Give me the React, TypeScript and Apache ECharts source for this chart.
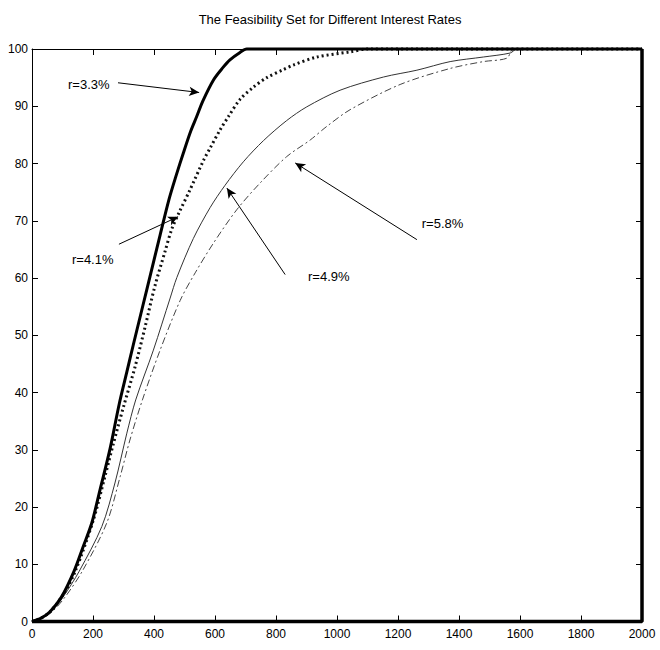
import React, { useEffect, useRef } from "react";
import * as echarts from "echarts";

const TITLE = "The Feasibility Set for Different Interest Rates";
const FONT = "'Liberation Sans Narrow', 'Liberation Sans', Arial, sans-serif";

const seriesNames = ["r=3.3%", "r=4.1%", "r=4.9%", "r=5.8%"];

// r = 3.3% (thick)
const r33: number[][] = [
  [0, 0], [30, 0.6], [59, 1.7], [97, 4.3], [138, 8.8], [168, 13.1], [196, 17.2], [223, 23],
  [256, 30.2], [286, 38], [311, 43.6], [332, 48.3], [354, 53.1], [376, 57.9], [398, 62.7],
  [420, 67.5], [449, 73.7], [472, 77.8], [496, 81.8], [520, 85.6], [540, 88.2],
  [560, 90.9], [595, 94.6], [625, 96.7], [649, 98.1], [682, 99.4], [704, 100],
  [2000, 100],
];
// closing edges of the feasibility set, drawn with the r = 3.3% style
const setBoundary: number[][] = [[2000, 100], [2000, 0], [0, 0]];
// r = 4.1% (dotted)
const r41: number[][] = [
  [0, 0], [30, 0.6], [59, 1.7], [100, 4.5], [142, 8.8], [201, 17.7], [239, 25.3], [267, 31.1],
  [300, 37.5], [338, 44.5], [371, 51.5], [403, 58.6], [436, 64.6], [458, 68.5],
  [482, 71.4], [518, 75.4], [562, 80.5], [584, 82.7], [617, 85.9], [644, 88.2],
  [682, 91.2], [725, 93.3], [770, 95], [824, 96.4], [857, 97.2], [934, 98.6],
  [1043, 99.5], [1100, 100], [2000, 100],
];
// r = 4.9% (thin solid)
const r49: number[][] = [
  [0, 0], [30, 0.6], [60, 1.6], [102, 4.3], [155, 8.8], [229, 16.6], [272, 24.2], [311, 32.9],
  [340, 38.7], [398, 47.4], [453, 56.5], [475, 60.1], [529, 66.9], [584, 72.3],
  [633, 76.2], [693, 80.3], [759, 84], [835, 87.5], [901, 89.9], [1010, 92.8],
  [1152, 95.1], [1262, 96.3], [1371, 97.8], [1480, 98.6], [1568, 99.3], [1590, 100], [2000, 100],
];
// r = 5.8% (dash-dot)
const r58: number[][] = [
  [0, 0], [31, 0.6], [62, 1.5], [106, 4.1], [165, 8.8], [245, 17.2], [289, 25.3], [321, 31.7],
  [362, 38.7], [420, 47.4], [486, 56.1], [535, 60.9], [595, 66.1], [671, 71.9],
  [748, 76.6], [835, 81.2], [912, 84.1], [967, 86.5], [1043, 89.4], [1207, 93.8],
  [1371, 96.6], [1480, 97.8], [1557, 98.4], [1579, 100], [2000, 100],
];

const xMin = 0, xMax = 2000, xStep = 200;
const yMin = 0, yMax = 100, yStep = 10;

// annotations (data coordinates)
const labelAnchor: number[][] = [[118, 93.8], [131, 63.2], [905, 60.3], [1278, 69.6]];
const arrowTail: number[][] = [[282, 94.1], [285, 65.9], [830, 60.6], [1262, 66.7]];
const arrowHead: number[][] = [[548, 92.4], [479, 70.7], [639, 75.7], [863, 80.1]];

const seriesData = [r33, r41, r49, r58];
const lineStyles: any[] = [
  { color: "#000", width: 3, type: "solid" },
  { color: "#111", width: 3, type: [2, 3] },
  { color: "#333", width: 1, type: "solid" },
  { color: "#444", width: 1, type: [7, 3, 2, 3] },
];
const zOrder = [5, 4, 3, 2];

export default function App() {
  const ref = useRef<HTMLDivElement>(null);
  useEffect(() => {
    if (!ref.current) return;
    const chart = echarts.init(ref.current, null, { renderer: "svg" });
    const axisCommon = {
      type: "value" as const,
      axisLine: { show: true, onZero: false, lineStyle: { color: "#000", width: 1 } },
      axisTick: { show: true, inside: true, length: 6, lineStyle: { color: "#000" } },
      splitLine: { show: false },
    };
    const curveSeries = seriesData.map((d, i) => ({
      name: seriesNames[i],
      type: "line",
      data: d,
      showSymbol: false,
      symbol: "none",
      smooth: 0.3,
      clip: false,
      z: zOrder[i],
      lineStyle: lineStyles[i],
      markLine: {
        silent: true,
        symbol: ["none", "arrow"],
        symbolSize: [7, 10],
        label: { show: false },
        lineStyle: { color: "#000", width: 1, type: "solid" },
        data: [[{ coord: arrowTail[i] }, { coord: arrowHead[i] }]],
      },
    }));
    const option: any = {
      animation: false,
      backgroundColor: "#fff",
      title: {
        text: TITLE,
        left: "center",
        top: 8,
        textStyle: { fontFamily: FONT, fontSize: 13, fontWeight: "normal", color: "#000" },
      },
      grid: { left: 32, right: 18, top: 49, bottom: 28.5, containLabel: false },
      xAxis: [
        {
          ...axisCommon, position: "bottom", min: xMin, max: xMax, interval: xStep,
          axisLabel: { color: "#000", fontFamily: FONT, fontSize: 12, margin: 6, formatter: (v: number) => String(v) },
        },
        {
          ...axisCommon, position: "top", min: xMin, max: xMax, interval: xStep,
          axisLabel: { show: false },
        },
      ],
      yAxis: [
        {
          ...axisCommon, position: "left", min: yMin, max: yMax, interval: yStep,
          axisLabel: { color: "#000", fontFamily: FONT, fontSize: 12, margin: 4, formatter: (v: number) => String(v) },
        },
        {
          ...axisCommon, position: "right", min: yMin, max: yMax, interval: yStep,
          axisLabel: { show: false },
        },
      ],
      series: [
        ...curveSeries,
        {
          name: "boundary",
          type: "line",
          data: setBoundary,
          showSymbol: false,
          symbol: "none",
          clip: false,
          z: 5,
          lineStyle: { color: "#000", width: 3.5, type: "solid" },
        },
      ],
    };
    chart.setOption(option);
    const texts = labelAnchor.map((p, i) => {
      const px = chart.convertToPixel({ gridIndex: 0 }, p) as number[];
      return {
        type: "text",
        x: px[0],
        y: px[1],
        style: {
          text: seriesNames[i],
          fill: "#000",
          font: `13px ${FONT}`,
          textAlign: "left",
          textVerticalAlign: "middle",
        },
      };
    });
    chart.setOption({ graphic: texts });
    return () => chart.dispose();
  }, []);
  return <div ref={ref} style={{ width: 660, height: 650, position: "absolute", left: 0, top: 0 }} />;
}
